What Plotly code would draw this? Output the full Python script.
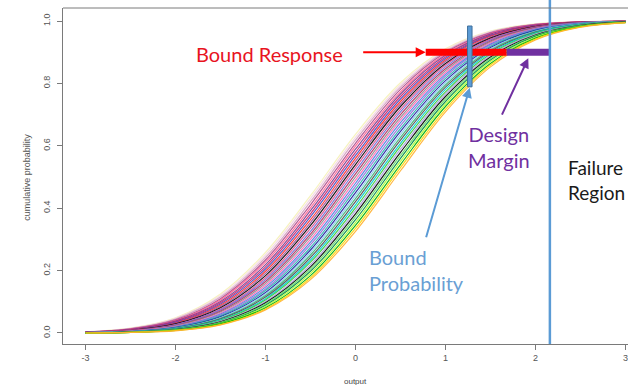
import plotly.graph_objects as go

# ---------------- data ----------------
x_grid = [-3.0, -2.5, -2.0, -1.5, -1.0, -0.5, 0.0, 0.5, 1.0, 1.5, 2.0, 2.5, 3.0]

curve_01 = [0.004, 0.016, 0.049, 0.125, 0.258, 0.440, 0.637, 0.802, 0.911, 0.968, 0.991, 0.998, 1.000]
curve_02 = [0.004, 0.015, 0.047, 0.120, 0.250, 0.431, 0.627, 0.795, 0.907, 0.966, 0.990, 0.998, 1.000]
curve_03 = [0.003, 0.014, 0.045, 0.115, 0.242, 0.421, 0.618, 0.788, 0.903, 0.964, 0.989, 0.997, 1.000]
curve_04 = [0.003, 0.013, 0.042, 0.110, 0.234, 0.411, 0.608, 0.781, 0.899, 0.962, 0.989, 0.997, 1.000]
curve_05 = [0.003, 0.012, 0.040, 0.106, 0.227, 0.401, 0.599, 0.773, 0.894, 0.960, 0.988, 0.997, 0.999]
curve_06 = [0.003, 0.011, 0.038, 0.101, 0.219, 0.392, 0.589, 0.766, 0.890, 0.958, 0.987, 0.997, 0.999]
curve_07 = [0.003, 0.011, 0.036, 0.097, 0.212, 0.382, 0.579, 0.758, 0.885, 0.955, 0.986, 0.997, 0.999]
curve_08 = [0.002, 0.010, 0.034, 0.093, 0.205, 0.373, 0.569, 0.750, 0.880, 0.953, 0.985, 0.996, 0.999]
curve_09 = [0.002, 0.009, 0.032, 0.089, 0.198, 0.363, 0.560, 0.742, 0.875, 0.951, 0.984, 0.996, 0.999]
curve_10 = [0.002, 0.009, 0.030, 0.085, 0.191, 0.354, 0.550, 0.734, 0.870, 0.948, 0.983, 0.996, 0.999]
curve_11 = [0.002, 0.008, 0.029, 0.081, 0.184, 0.345, 0.540, 0.726, 0.864, 0.945, 0.982, 0.995, 0.999]
curve_12 = [0.002, 0.008, 0.027, 0.077, 0.177, 0.335, 0.530, 0.717, 0.859, 0.942, 0.981, 0.995, 0.999]
curve_13 = [0.002, 0.007, 0.026, 0.074, 0.171, 0.326, 0.520, 0.709, 0.853, 0.939, 0.980, 0.995, 0.999]
curve_14 = [0.001, 0.007, 0.024, 0.070, 0.165, 0.317, 0.510, 0.700, 0.847, 0.936, 0.979, 0.994, 0.999]
curve_15 = [0.001, 0.006, 0.023, 0.067, 0.159, 0.309, 0.500, 0.691, 0.841, 0.933, 0.977, 0.994, 0.999]
curve_16 = [0.001, 0.006, 0.021, 0.064, 0.153, 0.300, 0.490, 0.683, 0.835, 0.930, 0.976, 0.993, 0.999]
curve_17 = [0.001, 0.005, 0.020, 0.061, 0.147, 0.291, 0.480, 0.674, 0.829, 0.926, 0.974, 0.993, 0.998]
curve_18 = [0.001, 0.005, 0.019, 0.058, 0.141, 0.283, 0.470, 0.665, 0.823, 0.923, 0.973, 0.992, 0.998]
curve_19 = [0.001, 0.005, 0.018, 0.055, 0.136, 0.274, 0.460, 0.655, 0.816, 0.919, 0.971, 0.992, 0.998]
curve_20 = [0.001, 0.004, 0.017, 0.052, 0.130, 0.266, 0.450, 0.646, 0.809, 0.915, 0.970, 0.991, 0.998]
curve_21 = [0.001, 0.004, 0.016, 0.049, 0.125, 0.258, 0.440, 0.637, 0.802, 0.911, 0.968, 0.991, 0.998]
curve_22 = [0.001, 0.004, 0.015, 0.047, 0.120, 0.250, 0.431, 0.627, 0.795, 0.907, 0.966, 0.990, 0.998]
curve_23 = [0.001, 0.003, 0.014, 0.045, 0.115, 0.242, 0.421, 0.618, 0.788, 0.903, 0.964, 0.989, 0.997]
curve_24 = [0.001, 0.003, 0.013, 0.042, 0.110, 0.234, 0.411, 0.608, 0.781, 0.899, 0.962, 0.989, 0.997]
curve_25 = [0.001, 0.003, 0.012, 0.040, 0.106, 0.227, 0.401, 0.599, 0.773, 0.894, 0.960, 0.988, 0.997]
curve_26 = [0.000, 0.003, 0.011, 0.038, 0.101, 0.219, 0.392, 0.589, 0.766, 0.890, 0.958, 0.987, 0.997]
curve_27 = [0.000, 0.003, 0.011, 0.036, 0.097, 0.212, 0.382, 0.579, 0.758, 0.885, 0.955, 0.986, 0.997]
curve_28 = [0.000, 0.002, 0.010, 0.034, 0.093, 0.205, 0.373, 0.569, 0.750, 0.880, 0.953, 0.985, 0.996]
curve_29 = [0.000, 0.002, 0.009, 0.032, 0.089, 0.198, 0.363, 0.560, 0.742, 0.875, 0.951, 0.984, 0.996]
curve_30 = [0.000, 0.002, 0.009, 0.030, 0.085, 0.191, 0.354, 0.550, 0.734, 0.870, 0.948, 0.983, 0.996]
curve_31 = [0.000, 0.002, 0.008, 0.029, 0.081, 0.184, 0.345, 0.540, 0.726, 0.864, 0.945, 0.982, 0.995]
curve_32 = [0.000, 0.002, 0.008, 0.027, 0.077, 0.177, 0.335, 0.530, 0.717, 0.859, 0.942, 0.981, 0.995]
curve_33 = [0.000, 0.002, 0.007, 0.026, 0.074, 0.171, 0.326, 0.520, 0.709, 0.853, 0.939, 0.980, 0.995]

curves = [curve_01, curve_02, curve_03, curve_04, curve_05, curve_06, curve_07, curve_08,
          curve_09, curve_10, curve_11, curve_12, curve_13, curve_14, curve_15, curve_16,
          curve_17, curve_18, curve_19, curve_20, curve_21, curve_22, curve_23, curve_24,
          curve_25, curve_26, curve_27, curve_28, curve_29, curve_30, curve_31, curve_32,
          curve_33]

curve_colors = ["#f6f2b8", "#f3d6e4", "#d4a0c0", "#b04a8c", "#ff6090", "#7a3d8f", "#d0206a",
                "#4b4bbf", "#ff2a2a", "#9a4f9a", "#000000", "#e0508f", "#6d6dd8", "#b03060",
                "#8a8a8a", "#ff69b4", "#4a7fe0", "#9370db", "#20b2aa", "#1e1ea0", "#87ceeb",
                "#3cb371", "#505050", "#00ced1", "#32cd32", "#b0a0e0", "#000000", "#66dd66",
                "#008b45", "#adff2f", "#00b000", "#ffd700", "#ffb030"]

x_ticks = [-3, -2, -1, 0, 1, 2, 3]
x_tick_labels = ["-3", "-2", "-1", "0", "1", "2", "3"]
y_ticks = [0.0, 0.2, 0.4, 0.6, 0.8, 1.0]
y_tick_labels = ["0.0", "0.2", "0.4", "0.6", "0.8", "1.0"]

bound_response = [0.78, 1.68]     # red bar (x from/to)
design_margin = [1.68, 2.16]      # purple bar (x from/to)
bar_level = 0.9
failure_limit = 2.16              # vertical line
bound_prob_x = [1.245, 1.295]
bound_prob_y = [0.789, 0.984]

# ---------------- figure ----------------
fig = go.Figure()
for ys, col in zip(curves, curve_colors):
    fig.add_trace(go.Scatter(x=x_grid, y=ys, mode="lines", line=dict(color=col, width=1.2, shape="spline"),
                             opacity=0.9, hoverinfo="skip", showlegend=False))

# bars
fig.add_shape(type="line", x0=bound_response[0], x1=bound_response[1], y0=bar_level, y1=bar_level,
              line=dict(color="#ff0000", width=7))
fig.add_shape(type="line", x0=design_margin[0], x1=design_margin[1], y0=bar_level, y1=bar_level,
              line=dict(color="#7030a0", width=7))
fig.add_shape(type="line", x0=failure_limit, x1=failure_limit, y0=0, y1=1.024, yref="paper",
              line=dict(color="#5b9bd5", width=2.5))
fig.add_shape(type="rect", x0=bound_prob_x[0], x1=bound_prob_x[1], y0=bound_prob_y[0], y1=bound_prob_y[1],
              fillcolor="#5b9bd5", line=dict(color="#41719c", width=1))
# top border of box
fig.add_shape(type="line", xref="paper", yref="paper", x0=0, x1=1, y0=1, y1=1,
              line=dict(color="#7a7a7a", width=1))

F = "Lato"
ann = []
# arrows
ann.append(dict(x=bound_response[0], y=bar_level, ax=-64, ay=0, axref="pixel", ayref="pixel",
                showarrow=True, arrowhead=2, arrowsize=1, arrowwidth=2, arrowcolor="#ff0000", text=""))
ann.append(dict(x=1.92, y=0.881, ax=-27, ay=58, showarrow=True, arrowhead=2, arrowsize=1, arrowwidth=2,
                arrowcolor="#7030a0", text=""))
ann.append(dict(x=1.269, y=0.786, ax=-44, ay=151, showarrow=True, arrowhead=2, arrowsize=1, arrowwidth=2,
                arrowcolor="#5b9bd5", text=""))
# texts
ann.append(dict(x=-0.12, y=0.893, text="Bound Response", showarrow=False, xanchor="right", yanchor="middle",
                font=dict(family=F, size=20, color="#e8141e")))
ann.append(dict(x=1.6, y=0.595, text="Design<br>Margin", showarrow=False, xanchor="center", yanchor="middle",
                align="center", font=dict(family=F, size=20, color="#7030a0")))
ann.append(dict(x=2.344, y=0.489, text="Failure<br>Region", showarrow=False, xanchor="left", yanchor="middle",
                align="left", font=dict(family=F, size=19, color="#1a1a1a")))
ann.append(dict(x=0.133, y=0.202, text="Bound<br>Probability", showarrow=False, xanchor="left", yanchor="middle",
                align="left", font=dict(family=F, size=20, color="#6a9fd4")))
# axis titles
ann.append(dict(x=0, y=-0.113, yref="paper", text="output", showarrow=False, xanchor="center", yanchor="middle",
                font=dict(family="Liberation Sans", size=8, color="#444444")))
ann.append(dict(x=-0.064, xref="paper", y=0.5, text="cumulative probability", showarrow=False, textangle=-90,
                xanchor="center", yanchor="middle", font=dict(family="Liberation Sans", size=9, color="#555555")))

fig.update_layout(
    width=628, height=385,
    margin=dict(l=63, r=0, t=8, b=41, autoexpand=False),
    paper_bgcolor="white", plot_bgcolor="white",
    annotations=ann,
    xaxis=dict(range=[-3.25, 3.028], tickvals=x_ticks, ticktext=x_tick_labels, ticks="outside", ticklen=5,
               tickcolor="#7a7a7a", showgrid=False, zeroline=False, showline=True, linecolor="#7a7a7a",
               linewidth=1, automargin=False,
               tickfont=dict(family="Liberation Sans", size=9, color="#555555")),
    yaxis=dict(range=[-0.0353, 1.0417], tickvals=y_ticks, ticktext=y_tick_labels, ticks="outside", ticklen=5,
               tickcolor="#7a7a7a", tickangle=-90, showgrid=False, zeroline=False, showline=True,
               linecolor="#7a7a7a", linewidth=1, automargin=False, ticklabelstandoff=3,
               tickfont=dict(family="Liberation Sans", size=9, color="#555555")),
)

fig.write_html("out.html", config={"displayModeBar": False},
               post_script="document.body.style.margin='0';document.body.style.padding='0';"
                           "document.body.style.overflow='hidden';")
